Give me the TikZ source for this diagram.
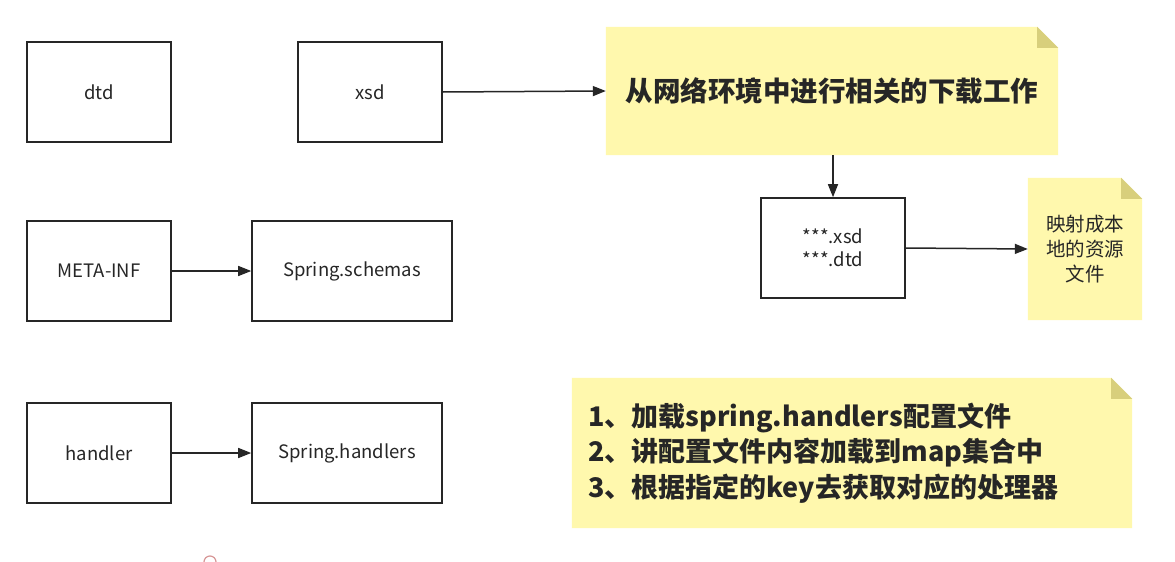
\documentclass[tikz,border=0pt]{standalone}
\usepackage{fontspec}
\setmainfont{Noto Sans CJK SC}
\usetikzlibrary{arrows.meta,backgrounds}
\definecolor{notey}{HTML}{FFF8AD}
\definecolor{foldy}{HTML}{D8CF7C}
\definecolor{ink}{HTML}{262626}
\tikzset{
  box/.style={draw=ink,line width=1.6pt,fill=white,minimum width=144pt,minimum height=100pt,inner sep=0pt,font=\fontsize{18.5}{23}\selectfont,text=ink,align=center},
  notenode/.style={inner sep=0pt,text=ink,align=center},
  conn/.style={draw=ink,line width=1.5pt,-{Triangle[length=13pt,width=10pt]}},
}
\newcommand{\notebg}[2]{%
  \fill[notey] (#1.north west) -- ([xshift=-#2pt]#1.north east) -- ([yshift=-#2pt]#1.north east) -- (#1.south east) -- (#1.south west) -- cycle;
  \fill[foldy] ([xshift=-#2pt]#1.north east) -- ([xshift=-#2pt,yshift=-#2pt]#1.north east) -- ([yshift=-#2pt]#1.north east) -- cycle;}
\begin{document}
\begin{tikzpicture}[x=1pt,y=-1pt]
\useasboundingbox (0,0) rectangle (1175,562);
% boxes
\node[box] (dtd) at (99,92) {dtd};
\node[box] (xsd) at (370,92) {xsd};
\node[box] (meta) at (99,271) {META-INF};
\node[box,minimum width=200pt] (schemas) at (352,271) {Spring.schemas};
\node[box] (handler) at (99,453) {handler};
\node[box,minimum width=190pt] (handlers) at (347,453) {Spring.handlers};
\node[box] (files) at (833,248) {***.xsd\\***.dtd};
% notes
\node[notenode,minimum width=452pt,minimum height=128pt,font=\fontsize{27.5}{34}\selectfont\bfseries] (download) at (832,91) {从网络环境中进行相关的下载工作};
\node[notenode,minimum width=114pt,minimum height=142pt,font=\fontsize{19.5}{25}\selectfont] (local) at (1085,249) {映射成本\\地的资源\\文件};
\node[notenode,minimum width=560pt,minimum height=150pt] (steps) at (852,453) {};
\node[anchor=west,inner sep=0pt,text=ink,align=left,font=\fontsize{27}{35.5}\selectfont\bfseries] (stepstext) at (588,453) {1、加载spring.handlers配置文件\\2、讲配置文件内容加载到map集合中\\3、根据指定的key去获取对应的处理器};
\begin{scope}[on background layer]
\fill[white] (0,0) rectangle (1175,562);
\notebg{download}{21}
\notebg{local}{21}
\notebg{steps}{21}
\end{scope}
% connectors
\draw[conn] (xsd.east) -- (download.west);
\draw[conn] (download.south -| files.north) -- (files.north);
\draw[conn] (files.east) -- (local.west);
\draw[conn] (meta.east) -- (schemas.west);
\draw[conn] (handler.east) -- (handlers.west);
% small mark
\draw[color={rgb,255:red,215;green,150;blue,150},line width=1.2pt] (204,562) arc[start angle=180,end angle=360,radius=6];
\end{tikzpicture}
\end{document}
